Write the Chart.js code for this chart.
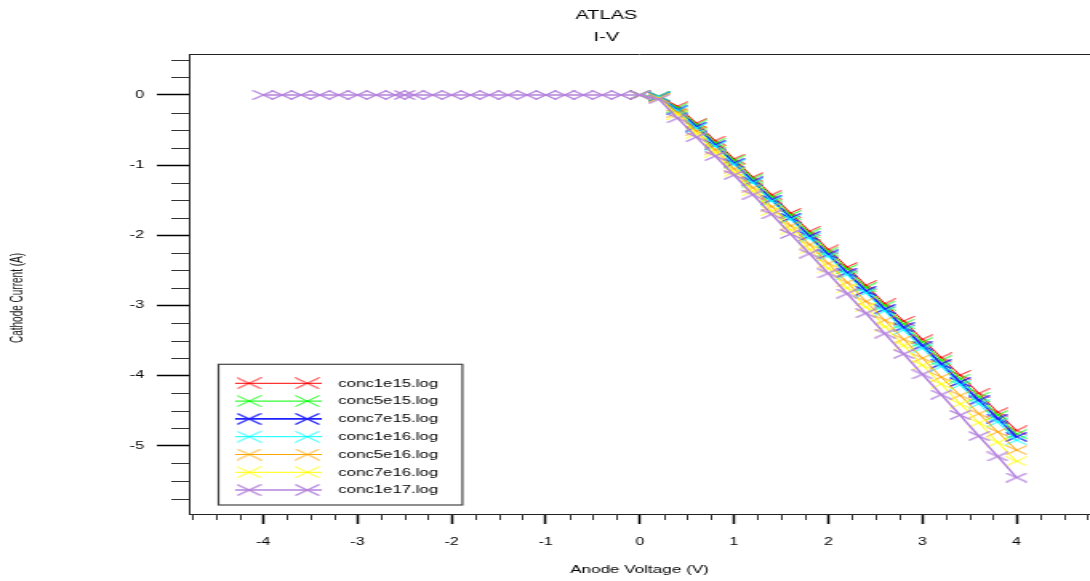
<!DOCTYPE html>
<html><head><meta charset="utf-8">
<script src="https://cdn.jsdelivr.net/npm/chart.js@4.4.1/dist/chart.umd.min.js"></script>
<style>
html,body{margin:0;padding:0;background:#fff;overflow:hidden;width:1090px;height:581px;}
#wrap{position:absolute;left:0;top:0;width:681px;height:581px;transform:scaleX(1.6006);transform-origin:0 0;}
canvas{display:block;}
</style></head><body>
<div id="wrap"><canvas id="c" width="681" height="581"></canvas></div>
<script>
// ---- data ----
const voltage = [0, 0.2, 0.4, 0.6, 0.8, 1.0, 1.2, 1.4, 1.6, 1.8, 2.0, 2.2, 2.4, 2.6, 2.8, 3.0, 3.2, 3.4, 3.6, 3.8, 4.0];
const voltagePurple = [-4.0, -3.8, -3.6, -3.4, -3.2, -3.0, -2.8, -2.6, -2.5, -2.4, -2.2, -2.0, -1.8, -1.6, -1.4, -1.2, -1.0, -0.8, -0.6, -0.4, -0.2,
  0, 0.2, 0.4, 0.6, 0.8, 1.0, 1.2, 1.4, 1.6, 1.8, 2.0, 2.2, 2.4, 2.6, 2.8, 3.0, 3.2, 3.4, 3.6, 3.8, 4.0];

const conc1e15 = [0, -0.02, -0.16, -0.40, -0.65, -0.91, -1.17, -1.42, -1.68, -1.94, -2.20, -2.45, -2.71, -2.97, -3.22, -3.48, -3.74, -3.99, -4.25, -4.52, -4.78];
const conc5e15 = [0, -0.02, -0.18, -0.42, -0.68, -0.93, -1.19, -1.45, -1.71, -1.97, -2.23, -2.48, -2.74, -3.00, -3.26, -3.52, -3.78, -4.04, -4.30, -4.56, -4.83];
const conc7e15 = [0, -0.03, -0.21, -0.45, -0.71, -0.97, -1.23, -1.49, -1.75, -2.01, -2.27, -2.53, -2.79, -3.05, -3.31, -3.57, -3.83, -4.09, -4.35, -4.61, -4.87];
const conc1e16 = [0, -0.02, -0.22, -0.47, -0.73, -0.99, -1.25, -1.51, -1.77, -2.04, -2.30, -2.56, -2.82, -3.08, -3.35, -3.61, -3.87, -4.13, -4.40, -4.66, -4.92];
const conc5e16 = [0, -0.04, -0.25, -0.51, -0.78, -1.05, -1.32, -1.59, -1.86, -2.13, -2.40, -2.67, -2.94, -3.21, -3.48, -3.75, -4.02, -4.28, -4.54, -4.80, -5.06];
const conc7e16 = [0, -0.05, -0.28, -0.55, -0.82, -1.10, -1.37, -1.65, -1.92, -2.20, -2.47, -2.75, -3.02, -3.30, -3.57, -3.85, -4.12, -4.40, -4.67, -4.95, -5.22];
const conc1e17 = [0, 0, 0, 0, 0, 0, 0, 0, 0, 0, 0, 0, 0, 0, 0, 0, 0, 0, 0, 0, 0,
  0, -0.06, -0.33, -0.60, -0.87, -1.14, -1.42, -1.70, -1.98, -2.26, -2.54, -2.83, -3.11, -3.40, -3.69, -3.98, -4.27, -4.56, -4.86, -5.15, -5.45];

const seriesLabels = ['conc1e15.log', 'conc5e15.log', 'conc7e15.log', 'conc1e16.log', 'conc5e16.log', 'conc7e16.log', 'conc1e17.log'];
const seriesX = [voltage, voltage, voltage, voltage, voltage, voltage, voltagePurple];
const seriesY = [conc1e15, conc5e15, conc7e15, conc1e16, conc5e16, conc7e16, conc1e17];

const xMajorTicks = [-4, -3, -2, -1, 0, 1, 2, 3, 4];
const yMajorTicks = [0, -1, -2, -3, -4, -5];

// ---- styles ----
const seriesColors = ['#ff0000', '#00ff00', '#2020ff', '#00ffff', '#ffa500', '#ffff00', '#b482dc'];
const seriesWidths = [1, 1, 1.6, 1, 1, 1, 1.5];
const FONT = '"Liberation Sans", Arial, sans-serif';
Chart.defaults.font.family = FONT;
Chart.defaults.color = '#000';

function makeX(color, w, h, lw) {
  const c = document.createElement('canvas');
  c.width = w; c.height = h;
  const g = c.getContext('2d');
  g.strokeStyle = color; g.lineWidth = lw;
  g.beginPath();
  g.moveTo(0.5, 0.5); g.lineTo(w - 0.5, h - 0.5);
  g.moveTo(0.5, h - 0.5); g.lineTo(w - 0.5, 0.5);
  g.stroke();
  return c;
}
const plotMarks = seriesColors.map((c, i) => makeX(c, 14, 10, seriesWidths[i] > 1 ? 1.3 : 1));
const legendMarks = seriesColors.map((c, i) => makeX(c, 16, 12, seriesWidths[i] > 1 ? 1.3 : 1));

const datasets = seriesLabels.map((label, i) => ({
  label,
  data: seriesX[i].map((v, j) => ({ x: v, y: seriesY[i][j] })),
  borderColor: seriesColors[i],
  backgroundColor: seriesColors[i],
  borderWidth: seriesWidths[i],
  showLine: true,
  tension: 0,
  pointStyle: plotMarks[i],
  pointRadius: 6,
  order: 6 - i
}));

const decorPlugin = {
  id: 'decor',
  afterDraw(chart) {
    const { ctx, scales: { x, y }, chartArea: a } = chart;
    ctx.save();
    // top frame line
    ctx.strokeStyle = '#222'; ctx.lineWidth = 1;
    ctx.beginPath(); ctx.moveTo(a.left, a.top + 0.5); ctx.lineTo(a.right, a.top + 0.5); ctx.stroke();
    // minor ticks
    ctx.strokeStyle = '#333'; ctx.lineWidth = 1;
    ctx.beginPath();
    for (let k = -19; k <= 19; k++) {
      if (k % 4 === 0) continue;
      const px = Math.round(x.getPixelForValue(k * 0.25)) + 0.5;
      ctx.moveTo(px, a.bottom); ctx.lineTo(px, a.bottom + 6);
    }
    for (let k = -23; k <= 2; k++) {
      if (k % 4 === 0) continue;
      const py = Math.round(y.getPixelForValue(k * 0.25)) + 0.5;
      ctx.moveTo(a.left, py); ctx.lineTo(a.left - 11, py);
    }
    ctx.stroke();
    // titles
    ctx.fillStyle = '#000';
    ctx.font = '12.5px ' + FONT;
    ctx.textAlign = 'center'; ctx.textBaseline = 'middle';
    ctx.fillText('ATLAS', 378.8, 16);
    ctx.fillText('I-V', 378.8, 38);
    // y axis title
    ctx.save();
    ctx.translate(11, 298);
    ctx.rotate(-Math.PI / 2);
    ctx.font = '10px ' + FONT;
    ctx.fillStyle = '#111';
    ctx.fillText('Cathode Current (A)', 0, 0);
    ctx.restore();
    // legend box
    const L = 136.5, T = 364.3, R = 288.9, B = 505;
    ctx.fillStyle = '#fff'; ctx.fillRect(L, T, R - L, B - T);
    ctx.strokeStyle = '#444'; ctx.lineWidth = 1.2; ctx.strokeRect(L, T, R - L, B - T);
    ctx.font = '10.5px ' + FONT; ctx.textAlign = 'left';
    chart.data.datasets.forEach((ds, i) => {
      const yy = 383.3 + i * 17.8;
      ctx.strokeStyle = ds.borderColor; ctx.lineWidth = ds.borderWidth;
      ctx.beginPath(); ctx.moveTo(146.9, yy); ctx.lineTo(201, yy); ctx.stroke();
      const m = legendMarks[i];
      ctx.drawImage(m, 155.6 - m.width / 2, yy - m.height / 2);
      ctx.drawImage(m, 191.9 - m.width / 2, yy - m.height / 2);
      ctx.fillStyle = '#000';
      ctx.fillText(ds.label, 211.3, yy + 0.5);
    });
    ctx.restore();
  }
};

new Chart(document.getElementById('c'), {
  type: 'scatter',
  data: { datasets },
  options: {
    responsive: false,
    animation: false,
    devicePixelRatio: 1,
    layout: { autoPadding: false, padding: { top: 54, right: 0, left: 0, bottom: 0 } },
    plugins: { legend: { display: false }, title: { display: false }, tooltip: { enabled: false } },
    scales: {
      x: {
        type: 'linear', position: 'bottom', min: -4.79, max: 4.78,
        afterFit: s => { s.height = 67; s.paddingLeft = 0; s.paddingRight = 0; },
        afterBuildTicks: s => { s.ticks = xMajorTicks.map(v => ({ value: v })); },
        ticks: { autoSkip: false, maxRotation: 0, padding: 12, font: { size: 10 }, color: '#000' },
        grid: { display: true, drawOnChartArea: false, drawTicks: true, tickLength: 10, tickColor: '#000', tickWidth: 1.5 },
        border: { display: true, color: '#222', width: 1 },
        title: { display: true, text: 'Anode Voltage (V)', font: { size: 10.7 }, color: '#000', padding: { top: 0, bottom: 5 } }
      },
      y: {
        type: 'linear', position: 'left', min: -5.97, max: 0.584,
        afterFit: s => { s.width = 118; s.paddingTop = 0; s.paddingBottom = 0; },
        afterBuildTicks: s => { s.ticks = yMajorTicks.map(v => ({ value: v })); },
        ticks: { padding: 8, font: { size: 10 }, color: '#000' },
        grid: { display: true, drawOnChartArea: false, drawTicks: true, tickLength: 20, tickColor: '#000', tickWidth: 1.5 },
        border: { display: true, color: '#222', width: 1 },
        title: { display: false }
      }
    }
  },
  plugins: [decorPlugin]
});
</script>
</body></html>
